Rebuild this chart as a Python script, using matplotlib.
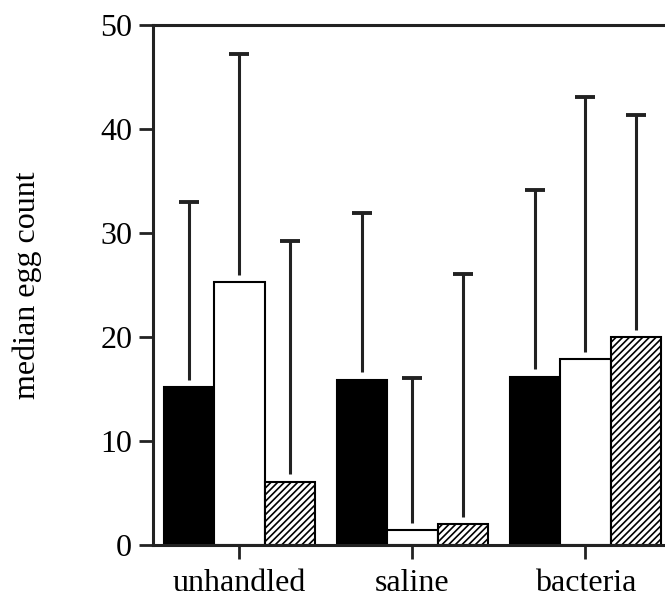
import numpy as np
import matplotlib
matplotlib.use("Agg")
import matplotlib.pyplot as plt

plt.rcParams["font.family"] = ["Liberation Serif", "DejaVu Serif"]
plt.rcParams["hatch.linewidth"] = 1.2

groups = ["unhandled", "saline", "bacteria"]
# median egg count per treatment (black, white, hatched)
black_vals = [15.2, 15.9, 16.2]
white_vals = [25.3, 1.4, 17.9]
hatch_vals = [6.1, 2.0, 20.0]
# upper end of error bars
black_up = [33.0, 31.9, 34.1]
white_up = [47.2, 16.1, 43.1]
hatch_up = [29.2, 26.1, 41.3]

fig = plt.figure(figsize=(6.65, 5.99), dpi=100)
ax = fig.add_axes([153 / 665, 54 / 599, 512 / 665, 520 / 599])

x = np.arange(len(groups))
w = 0.291
gap = 0.7
series = [
    (black_vals, black_up, dict(color="black", edgecolor="black")),
    (white_vals, white_up, dict(color="white", edgecolor="black")),
    (hatch_vals, hatch_up, dict(color="white", edgecolor="black", hatch="/////")),
]
for i, (vals, up, style) in enumerate(series):
    pos = x + (i - 1) * w
    vals = np.array(vals)
    ax.bar(pos, vals, width=w, linewidth=1.5, zorder=2, **style)
    ax.vlines(pos, vals + gap, up, color="#222222", lw=2.2, zorder=3)
    ax.plot(pos, up, ls="none", marker="_", ms=15, mew=2.8, color="#222222", zorder=3)

ax.set_xlim(-0.5, 2.46)
ax.set_ylim(0, 50)
ax.set_yticks([0, 10, 20, 30, 40, 50])
ax.set_xticks(x)
ax.set_xticklabels(groups)
ax.spines["right"].set_visible(False)
for s in ["left", "top", "bottom"]:
    ax.spines[s].set_linewidth(2.2)
    ax.spines[s].set_color("#222222")
ax.tick_params(axis="both", direction="out", length=10, width=2, labelsize=23, color="#222222")
ax.tick_params(axis="y", pad=5)
ax.tick_params(axis="x", pad=7)
ax.set_ylabel("median egg count", fontsize=23, labelpad=42)

fig.savefig("out.png", dpi=100)
